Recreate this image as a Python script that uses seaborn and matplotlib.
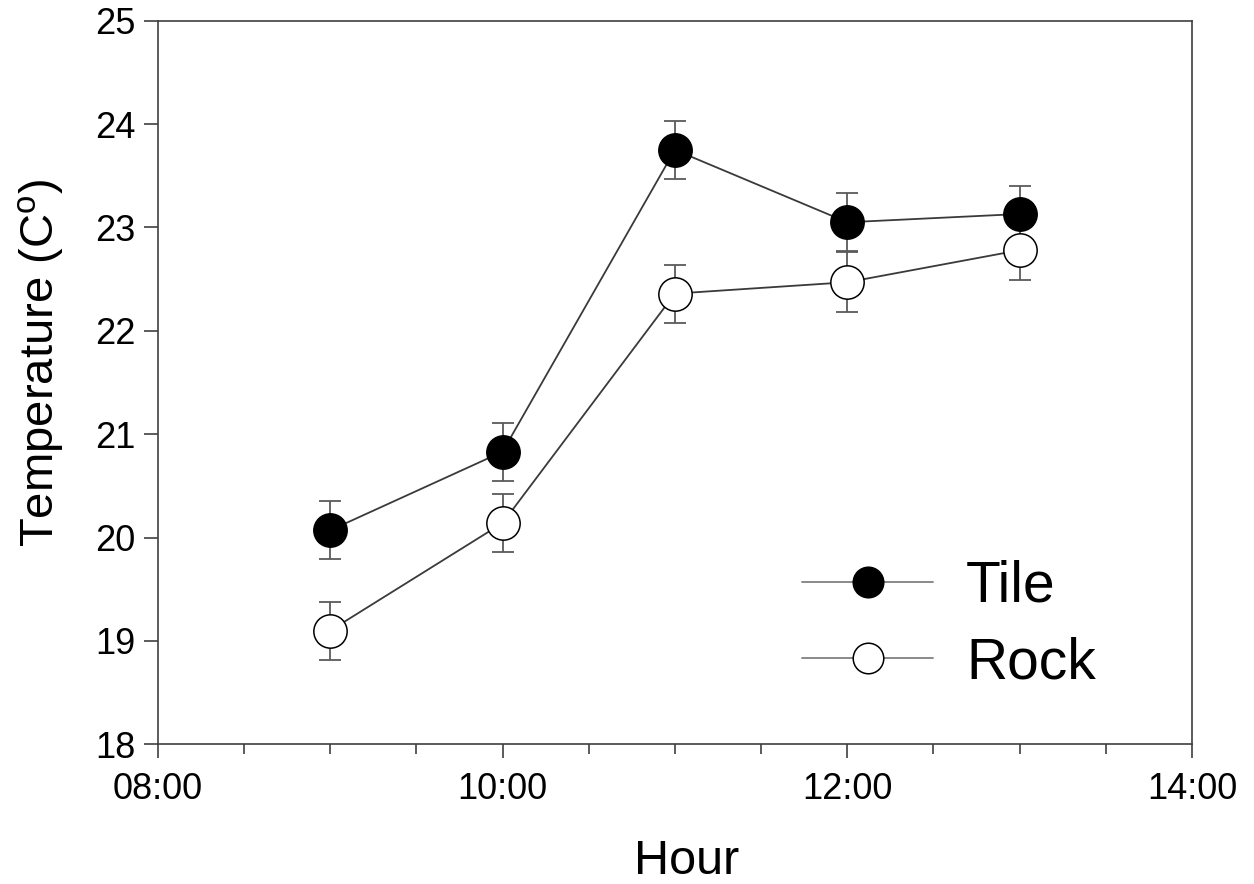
"""Surface temperature of tile vs rock through the morning."""

import matplotlib
matplotlib.use("Agg")
import matplotlib.pyplot as plt
from matplotlib.ticker import MultipleLocator
import pandas as pd
import seaborn as sns

hours = [9, 10, 11, 12, 13]
tile_temp = [20.07, 20.83, 23.75, 23.05, 23.13]
tile_err = [0.28, 0.28, 0.28, 0.28, 0.27]
rock_temp = [19.10, 20.14, 22.36, 22.47, 22.78]
rock_err = [0.28, 0.28, 0.28, 0.29, 0.29]
xtick_hours = [8, 10, 12, 14]
xtick_labels = ["08:00", "10:00", "12:00", "14:00"]

df = pd.DataFrame({
    "hour": hours * 2,
    "temp": tile_temp + rock_temp,
    "err": tile_err + rock_err,
    "surface": ["Tile"] * len(hours) + ["Rock"] * len(hours),
})

sns.set_style("ticks")
plt.rcParams["font.family"] = ["Liberation Sans", "DejaVu Sans"]
plt.rcParams["mathtext.fontset"] = "custom"
plt.rcParams["mathtext.rm"] = "Liberation Sans"

fig = plt.figure(figsize=(12.54, 8.84), dpi=100)
ax = fig.add_axes([0.1258, 0.158, 0.8248, 0.8186])

fills = {"Tile": "black", "Rock": "white"}
for name, grp in df.groupby("surface", sort=False):
    ax.errorbar(grp["hour"], grp["temp"], yerr=grp["err"], fmt="none", ecolor="#5a5a5a",
                elinewidth=1.3, capsize=8, capthick=1.3, zorder=2)
    sns.lineplot(data=grp, x="hour", y="temp", ax=ax, color="#3a3a3a", linewidth=1.3,
                 marker="o", markersize=24, markerfacecolor=fills[name],
                 markeredgecolor="black", markeredgewidth=1.1, label=name, zorder=3)

ax.set_xlim(8, 14)
ax.set_ylim(18, 25)
ax.set_xticks(xtick_hours)
ax.set_xticklabels(xtick_labels)
ax.xaxis.set_minor_locator(MultipleLocator(0.5))
ax.set_yticks(range(18, 26))
ax.tick_params(axis="both", which="major", direction="out", length=10, width=1.2,
               labelsize=26, colors="#404040", labelcolor="black")
ax.tick_params(axis="x", which="minor", direction="out", length=7, width=1.2, colors="#404040")
ax.tick_params(axis="x", pad=10)
ax.tick_params(axis="y", pad=6)
for side in ["left", "right", "top", "bottom"]:
    ax.spines[side].set_visible(True)
    ax.spines[side].set_color("#404040")
    ax.spines[side].set_linewidth(1.2)

ax.set_xlabel("Hour", fontsize=35, color="black")
ax.set_ylabel("Temperature (C$^{\\mathrm{o}}$)", fontsize=34, color="black")
ax.xaxis.set_label_coords(0.511, -0.131)
ax.yaxis.set_label_coords(-0.089, 0.527)

leg = ax.legend(loc="center left", bbox_to_anchor=(0.623, 0.165), frameon=False, fontsize=41,
                handlelength=2.3, handletextpad=0.58, labelspacing=0.4, borderpad=0,
                borderaxespad=0, labelcolor="black")
for line in leg.get_lines():
    line.set_color("#808080")
    line.set_markersize(22)

fig.savefig("out.png", dpi=100)
plt.close(fig)
